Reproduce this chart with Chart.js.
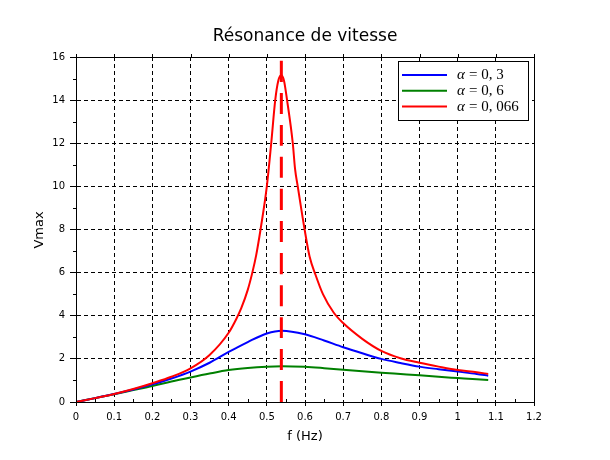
<!DOCTYPE html>
<html>
<head>
<meta charset="utf-8">
<script src="https://cdn.jsdelivr.net/npm/chart.js@4.4.0/dist/chart.umd.min.js"></script>
<style>
  html, body { margin: 0; padding: 0; background: #fff; }
  #wrap { width: 610px; height: 460px; }
</style>
</head>
<body>
<div id="wrap"><canvas id="c" width="610" height="460"></canvas></div>
<script>
// values (f in Hz, Vmax)
const freqShared = [0, 0.05, 0.1, 0.15, 0.2, 0.25, 0.3, 0.35, 0.4, 0.45, 0.5, 0.54, 0.6, 0.65, 0.7, 0.75, 0.8, 0.85, 0.9, 0.95, 1.0, 1.05, 1.08];
const vmaxAlpha03 = [0, 0.18, 0.37, 0.58, 0.82, 1.09, 1.41, 1.82, 2.32, 2.78, 3.18, 3.31, 3.14, 2.85, 2.54, 2.26, 2.0, 1.81, 1.64, 1.52, 1.41, 1.3, 1.22];
const vmaxAlpha06 = [0, 0.18, 0.36, 0.55, 0.74, 0.95, 1.14, 1.32, 1.48, 1.58, 1.64, 1.66, 1.63, 1.57, 1.5, 1.43, 1.36, 1.3, 1.24, 1.17, 1.11, 1.05, 1.02];

const freqAlpha0066 = [0, 0.05, 0.1, 0.15, 0.2, 0.25, 0.3, 0.35, 0.4, 0.42, 0.433, 0.45, 0.462, 0.472, 0.4835, 0.5, 0.5115, 0.522, 0.53, 0.5377, 0.545, 0.553, 0.568, 0.574, 0.581, 0.599, 0.612, 0.6275, 0.647, 0.675, 0.7, 0.75, 0.8, 0.85, 0.9, 0.95, 1.0, 1.05, 1.08];
const vmaxAlpha0066 = [0, 0.18, 0.37, 0.6, 0.87, 1.17, 1.56, 2.18, 3.21, 3.85, 4.35, 5.2, 6.0, 6.8, 8.0, 10.0, 12.0, 14.0, 14.9, 15.17, 14.9, 14.0, 12.0, 10.8, 10.0, 8.0, 6.75, 5.9, 5.0, 4.15, 3.66, 2.93, 2.37, 2.03, 1.82, 1.64, 1.48, 1.38, 1.3];

const resonanceFreq = 0.538;
const resonanceTop = 15.83;

const xTicks = [0, 0.1, 0.2, 0.3, 0.4, 0.5, 0.6, 0.7, 0.8, 0.9, 1, 1.1, 1.2];
const yTicks = [0, 2, 4, 6, 8, 10, 12, 14, 16];
const xMinorTicks = [0.05, 0.15, 0.25, 0.35, 0.45, 0.55, 0.65, 0.75, 0.85, 0.95, 1.05, 1.15];
const yMinorTicks = [1, 3, 5, 7, 9, 11, 13, 15];

const legendLabels = ['α = 0,3', 'α = 0,6', 'α = 0,066'];
const legendColors = ['#0000ff', '#008000', '#ff0000'];

const toPoints = (xs, ys) => xs.map((x, i) => ({ x: x, y: ys[i] }));

// frame, minor ticks, titles and the boxed legend
const decorPlugin = {
  id: 'decor',
  afterDraw(chart) {
    const { ctx, chartArea: a, scales } = chart;
    ctx.save();
    ctx.strokeStyle = '#000';
    ctx.lineWidth = 1;
    ctx.setLineDash([]);
    ctx.strokeRect(a.left + 0.5, a.top + 0.5, a.right - a.left, a.bottom - a.top);

    ctx.beginPath();
    yMinorTicks.forEach(v => {
      const y = Math.round(scales.y.getPixelForValue(v)) + 0.5;
      ctx.moveTo(a.left - 3, y); ctx.lineTo(a.left, y);
    });
    xMinorTicks.forEach(v => {
      const x = Math.round(scales.x.getPixelForValue(v)) + 0.5;
      ctx.moveTo(x, a.bottom); ctx.lineTo(x, a.bottom - 3);
    });
    xTicks.forEach(v => {
      const x = Math.round(scales.x.getPixelForValue(v)) + 0.5;
      ctx.moveTo(x, a.top); ctx.lineTo(x, a.top - 3);
    });
    ctx.stroke();

    ctx.fillStyle = '#000';
    ctx.textAlign = 'center';
    ctx.textBaseline = 'middle';
    ctx.font = '17px "DejaVu Sans"';
    ctx.fillText('Résonance de vitesse', 305, 37);
    ctx.font = '13px "DejaVu Sans"';
    ctx.fillText('f (Hz)', 305, 437);
    ctx.save();
    ctx.translate(40, 230);
    ctx.rotate(-Math.PI / 2);
    ctx.fillText('Vmax', 0, 0);
    ctx.restore();

    // legend box
    ctx.fillStyle = '#fff';
    ctx.fillRect(398, 61, 131, 60);
    ctx.strokeRect(398.5, 61.5, 130, 59);
    legendLabels.forEach((lab, i) => {
      const y = 75 + i * 15.8;
      ctx.strokeStyle = legendColors[i];
      ctx.lineWidth = 2;
      ctx.beginPath();
      ctx.moveTo(402, y); ctx.lineTo(447, y);
      ctx.stroke();
      ctx.fillStyle = '#000';
      ctx.textAlign = 'left';
      ctx.font = 'italic 15px "Liberation Serif"';
      ctx.fillText(lab.slice(0, 1), 457, y);
      ctx.font = '15px "Liberation Serif"';
      ctx.fillText(lab.slice(1).trim().replace(',', ', '), 469, y);
    });
    ctx.restore();
  }
};

const gridStyle = { color: '#000', lineWidth: 1, tickColor: '#000', tickWidth: 1, drawTicks: true };

new Chart(document.getElementById('c'), {
  type: 'scatter',
  data: {
    datasets: [
      { label: legendLabels[0], data: toPoints(freqShared, vmaxAlpha03), borderColor: legendColors[0], order: 2 },
      { label: legendLabels[1], data: toPoints(freqShared, vmaxAlpha06), borderColor: legendColors[1], order: 3 },
      { label: legendLabels[2], data: toPoints(freqAlpha0066, vmaxAlpha0066), borderColor: legendColors[2], order: 0 },
      {
        label: 'f0',
        data: [{ x: resonanceFreq, y: 0 }, { x: resonanceFreq, y: resonanceTop }],
        borderColor: '#ff0000', borderWidth: 3, borderDash: [21, 11], order: 1
      }
    ].map(d => Object.assign({
      showLine: true, pointRadius: 0, borderWidth: 2, fill: false,
      cubicInterpolationMode: 'monotone'
    }, d))
  },
  options: {
    responsive: false,
    animation: false,
    layout: { padding: { top: 57, right: 76, left: 0, bottom: 0 } },
    plugins: { legend: { display: false }, title: { display: false }, tooltip: { enabled: false } },
    scales: {
      x: {
        type: 'linear', min: 0, max: 1.2,
        afterBuildTicks: s => { s.ticks = xTicks.map(v => ({ value: v })); },
        afterFit: s => { s.height = 58; },
        grid: Object.assign({ tickLength: 4 }, gridStyle),
        border: { display: true, color: '#000', dash: [4, 3] },
        ticks: {
          color: '#000', padding: 5, maxRotation: 0, autoSkip: false,
          font: { family: 'DejaVu Sans', size: 10 },
          callback: v => String(Math.round(v * 10) / 10)
        }
      },
      y: {
        type: 'linear', min: 0, max: 16,
        afterBuildTicks: s => { s.ticks = yTicks.map(v => ({ value: v })); },
        afterFit: s => { s.width = 76; },
        grid: Object.assign({ tickLength: 6 }, gridStyle),
        border: { display: true, color: '#000', dash: [4, 3] },
        ticks: {
          color: '#000', padding: 5, autoSkip: false,
          font: { family: 'DejaVu Sans', size: 10 }
        }
      }
    }
  },
  plugins: [decorPlugin]
});
</script>
</body>
</html>
